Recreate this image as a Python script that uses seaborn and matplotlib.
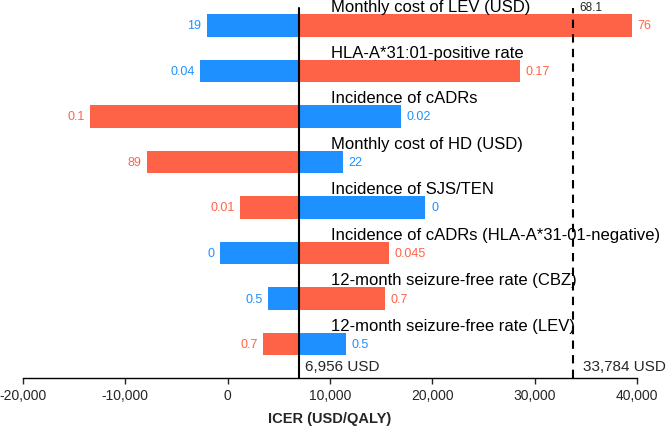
import pandas as pd
import seaborn as sns
import matplotlib.pyplot as plt
from matplotlib.ticker import FuncFormatter

# Data
params = [
    "Monthly cost of LEV (USD)",
    "HLA-A*31:01-positive rate",
    "Incidence of cADRs",
    "Monthly cost of HD (USD)",
    "Incidence of SJS/TEN",
    "Incidence of cADRs (HLA-A*31-01-negative)",
    "12-month seizure-free rate (CBZ)",
    "12-month seizure-free rate (LEV)",
]
blue_end = [-2050, -2700, 16950, 11230, 19330, -750, 3970, 11580]
blue_lab = ["19", "0.04", "0.02", "22", "0", "0", "0.5", "0.5"]
orange_end = [39500, 28600, -13450, -7850, 1200, 15780, 15330, 3480]
orange_lab = ["76", "0.17", "0.1", "89", "0.01", "0.045", "0.7", "0.7"]

base_icer = 6956
wtp = 33784
wtp_label = "68.1"

BLUE = "#1E90FF"
ORANGE = "#FF6347"

sns.set_style("white")
plt.rcParams["font.family"] = ["Liberation Sans", "DejaVu Sans"]

df = pd.DataFrame({
    "param": params,
    "blue": [v - base_icer for v in blue_end],
    "orange": [v - base_icer for v in orange_end],
})

fig = plt.figure(figsize=(6.66, 4.27), dpi=100)
ax = fig.add_axes([23 / 666, 48 / 427, 614 / 666, 379 / 427])

sns.barplot(data=df, x="blue", y="param", orient="h", color=BLUE, saturation=1,
            width=0.49, left=base_icer, linewidth=0, ax=ax)
sns.barplot(data=df, x="orange", y="param", orient="h", color=ORANGE, saturation=1,
            width=0.49, left=base_icer, linewidth=0, ax=ax)

ax.set_xlim(-20000, 40000)
ax.set_ylim(7.747, -0.582)

# value labels at bar ends, parameter names above bars
for i in range(len(params)):
    for end, lab, col in [(blue_end[i], blue_lab[i], BLUE),
                          (orange_end[i], orange_lab[i], ORANGE)]:
        if end < base_icer:
            ax.annotate(lab, (end, i), xytext=(-4, 0), textcoords="offset points",
                        ha="right", va="center", color=col, fontsize=9)
        else:
            ax.annotate(lab, (end, i), xytext=(4, 0), textcoords="offset points",
                        ha="left", va="center", color=col, fontsize=9)
    ax.annotate(params[i], (base_icer, i - 0.31), xytext=(23.5, 0),
                textcoords="offset points", ha="left", va="baseline",
                fontsize=12, color="black", annotation_clip=False)

# base-case and threshold lines
ax.axvline(base_icer, ymin=0, ymax=0.976, color="black", lw=1.5)
ax.axvline(wtp, ymin=0, ymax=0.976, color="black", lw=1.5, ls=(0, (4, 3)))
ax.annotate(wtp_label, (wtp, -0.582), xytext=(4, -1.5), textcoords="offset points",
            ha="left", va="top", fontsize=8.5, annotation_clip=False)
ax.annotate(f"{base_icer:,} USD", (base_icer, 7.747), xytext=(4.5, 5.5),
            textcoords="offset points", ha="left", va="baseline", fontsize=11)
ax.annotate(f"{wtp:,} USD", (wtp, 7.747), xytext=(7, 5.5),
            textcoords="offset points", ha="left", va="baseline", fontsize=11)

ax.set_xticks(range(-20000, 40001, 10000))
ax.xaxis.set_major_formatter(FuncFormatter(lambda v, p: f"{int(v):,}"))
ax.tick_params(axis="x", direction="out", length=4, width=1, labelsize=10,
               bottom=True, pad=3)
ax.set_yticks([])
ax.set_ylabel("")
ax.set_xlabel("ICER (USD/QALY)", fontsize=10.5, fontweight="bold", labelpad=7)
sns.despine(ax=ax, left=True)
ax.spines["bottom"].set_color("black")
ax.spines["bottom"].set_linewidth(1)

fig.savefig("out.png", dpi=100)
